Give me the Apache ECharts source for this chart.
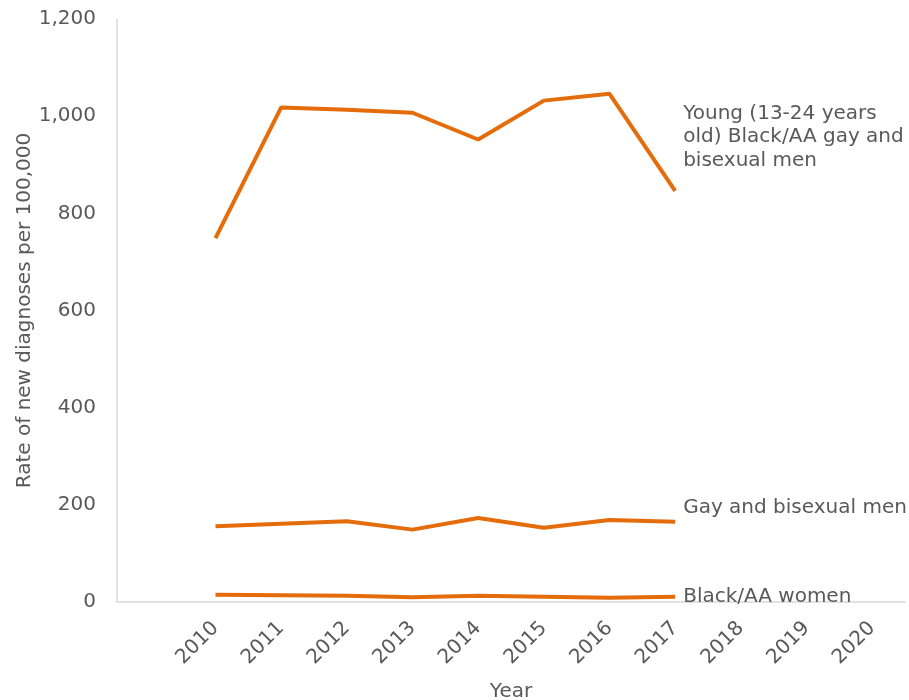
<!DOCTYPE html>
<html>
<head>
<meta charset="utf-8">
<script src="https://cdn.jsdelivr.net/npm/echarts@6/dist/echarts.min.js"></script>
<style>
html,body{margin:0;padding:0;background:#fff;}
#chart{width:909px;height:700px;}
</style>
</head>
<body>
<div id="chart"></div>
<script>
// Data
var categories = ['', '2010', '2011', '2012', '2013', '2014', '2015', '2016', '2017', '2018', '2019', '2020'];
var dataYears = ['2010', '2011', '2012', '2013', '2014', '2015', '2016', '2017'];
var youngBlackMSM = [749, 1018, 1013, 1007, 952, 1032, 1046, 846];
var gayBisexualMen = [156, 161, 166, 149, 173, 153, 169, 165];
var blackWomen = [15, 14, 13, 10, 13, 11, 9, 11];
var seriesNames = ['Young (13-24 years\nold) Black/AA gay and\nbisexual men', 'Gay and bisexual men', 'Black/AA women'];
var yTicks = [0, 200, 400, 600, 800, 1000, 1200];

var FONT = 'DejaVu Sans';
var TXT = '#595959';
var ORANGE = '#E46C0A';
var FS = 20;

function pairs(vals) {
  return dataYears.map(function (y, i) { return [y, vals[i]]; });
}

function lineSeries(name, vals, offset) {
  return {
    type: 'line',
    name: name,
    data: pairs(vals),
    symbol: 'none',
    lineStyle: { color: ORANGE, width: 4 },
    itemStyle: { color: ORANGE },
    z: 3,
    endLabel: {
      show: true,
      formatter: name,
      color: TXT,
      fontFamily: FONT,
      fontSize: FS,
      lineHeight: 23.5,
      distance: 8,
      offset: offset,
      align: 'left'
    }
  };
}

var chart = echarts.init(document.getElementById('chart'), null, { renderer: 'canvas' });
chart.setOption({
  animation: false,
  backgroundColor: '#fff',
  grid: { left: 117, right: 4, top: 19, bottom: 98, containLabel: false, outerBoundsMode: 'none' },
  xAxis: {
    type: 'category',
    data: categories,
    boundaryGap: true,
    name: 'Year',
    nameLocation: 'middle',
    nameGap: 80,
    nameMoveOverlap: false,
    nameTextStyle: { color: TXT, fontFamily: FONT, fontSize: FS },
    axisLine: { show: true, lineStyle: { color: '#d9d9d9', width: 1.5 } },
    axisTick: { show: false },
    axisLabel: {
      rotate: 45,
      interval: 0,
      margin: 23,
      color: TXT,
      fontFamily: FONT,
      fontSize: FS
    },
    splitLine: { show: false }
  },
  yAxis: {
    type: 'value',
    min: yTicks[0],
    max: yTicks[yTicks.length - 1],
    interval: 200,
    name: 'Rate of new diagnoses per 100,000',
    nameLocation: 'middle',
    nameGap: 82,
    nameMoveOverlap: false,
    nameTextStyle: { color: TXT, fontFamily: FONT, fontSize: FS },
    axisLine: { show: true, lineStyle: { color: '#d9d9d9', width: 1.5 } },
    axisTick: { show: false },
    splitLine: { show: false },
    axisLabel: {
      margin: 21,
      color: TXT,
      fontFamily: FONT,
      fontSize: FS,
      formatter: function (v) { return v.toLocaleString('en-US'); }
    }
  },
  series: [
    lineSeries(seriesNames[0], youngBlackMSM, [0, -54]),
    lineSeries(seriesNames[1], gayBisexualMen, [0, -14]),
    lineSeries(seriesNames[2], blackWomen, [0, 0])
  ]
});
</script>
</body>
</html>
